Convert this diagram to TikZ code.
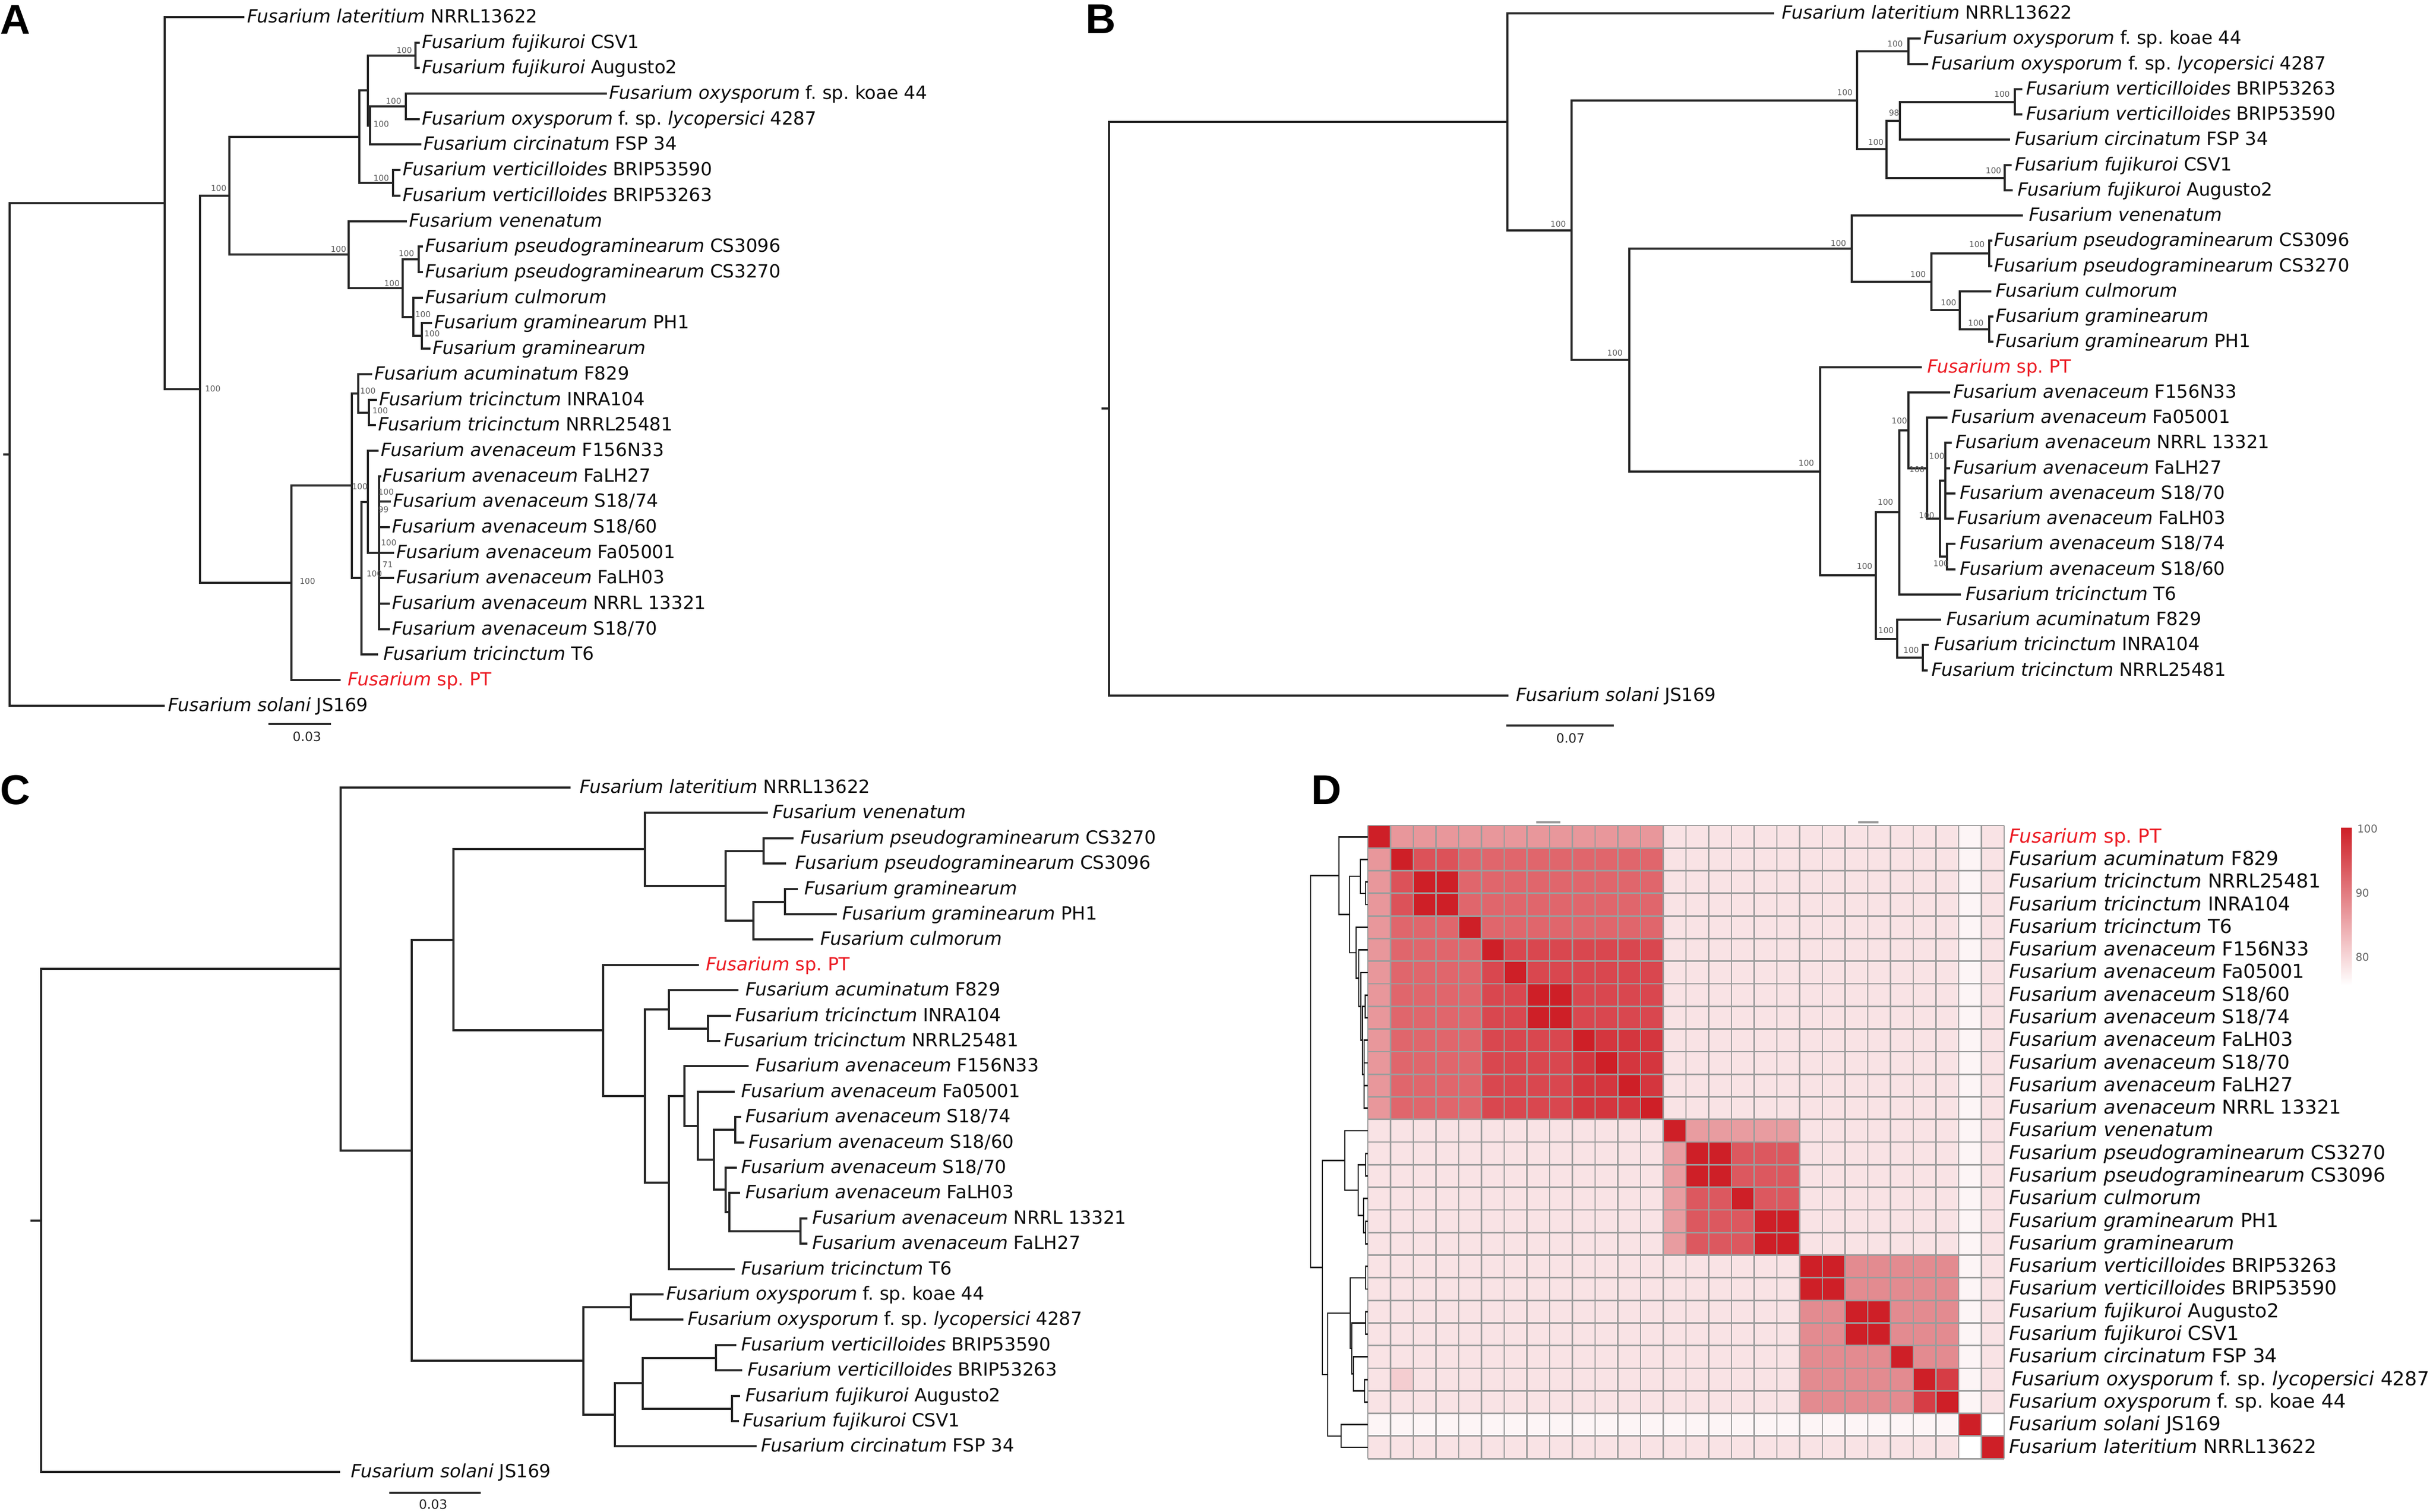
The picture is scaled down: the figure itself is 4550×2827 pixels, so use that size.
\documentclass[tikz,border=0pt]{standalone}
\usepackage{fontspec}
\setmainfont{DejaVu Sans}
\newfontfamily\plabfont{Liberation Sans}
\definecolor{hdk}{HTML}{CE1F27}
\definecolor{hP}{HTML}{E8979B}
\definecolor{hA}{HTML}{E0666C}
\definecolor{hAt}{HTML}{DC5259}
\definecolor{hAv}{HTML}{D9474F}
\definecolor{hAw}{HTML}{D4363E}
\definecolor{hB}{HTML}{DC585F}
\definecolor{hBv}{HTML}{E89CA0}
\definecolor{hC}{HTML}{E38B90}
\definecolor{hCo}{HTML}{D63D45}
\definecolor{hoff}{HTML}{F9E3E5}
\definecolor{hwt}{HTML}{FDF5F6}
\definecolor{hx}{HTML}{F4CDD0}
\definecolor{ptred}{HTML}{EC1C24}
\definecolor{gridgray}{HTML}{9C9C9C}
\newcommand\tfont{\fontsize{34}{40}\selectfont}
\newcommand\dfont{\fontsize{36}{42}\selectfont}
\newcommand\bsfont{\fontsize{15}{16}\selectfont}
\newcommand\Fu[2]{\textit{Fusarium #1} #2}
\newcommand\Fi[1]{\textit{Fusarium #1}}
\newcommand\Fox[1]{\textit{Fusarium oxysporum} f.\ sp.\ #1}
\newcommand\Fpt{\textcolor{ptred}{\textit{Fusarium} sp.\ PT}}
\newcommand\blk[1]{\ifnum#1<14 1\else\ifnum#1<20 2\else\ifnum#1<27 3\else\ifnum#1=27 4\else 5\fi\fi\fi\fi}
\newcommand\ispair[5]{\ifnum\numexpr(#1)*(#2)\relax=\numexpr(#3)*(#4)\relax\ifnum\numexpr(#1)+(#2)\relax=\numexpr(#3)+(#4)\relax\def\cc{#5}\fi\fi}
\newcommand\setccA[2]{%
  \def\cc{hA}%
  \ifnum#1>5 \ifnum#2>5 \def\cc{hAv}\ifnum#1>9 \ifnum#2>9 \def\cc{hAw}\fi\fi\fi\fi
  \ifnum#1<5 \ifnum#2<5 \def\cc{hAt}\fi\fi
  \ispair{#1}{#2}{3}{4}{hdk}%
  \ispair{#1}{#2}{8}{9}{hdk}%
  \ifnum#1=1 \def\cc{hP}\fi
  \ifnum#2=1 \def\cc{hP}\fi}
\newcommand\setccB[2]{%
  \def\cc{hB}%
  \ispair{#1}{#2}{15}{16}{hdk}%
  \ispair{#1}{#2}{18}{19}{hdk}%
  \ifnum#1=14 \def\cc{hBv}\fi
  \ifnum#2=14 \def\cc{hBv}\fi}
\newcommand\setccC[2]{%
  \def\cc{hC}%
  \ispair{#1}{#2}{20}{21}{hdk}%
  \ispair{#1}{#2}{22}{23}{hdk}%
  \ispair{#1}{#2}{25}{26}{hCo}}
\newcommand\setcc[2]{%
  \def\cc{hoff}%
  \ifnum#1=#2\relax\def\cc{hdk}\else
    \edef\bi{\blk{#1}}\edef\bj{\blk{#2}}%
    \ifnum\bi=\bj\relax
      \ifnum\bi=1 \setccA{#1}{#2}\fi
      \ifnum\bi=2 \setccB{#1}{#2}\fi
      \ifnum\bi=3 \setccC{#1}{#2}\fi
    \else
      \ifnum#1=27 \def\cc{hwt}\fi
      \ifnum#2=27 \def\cc{hwt}\fi
      \ifnum\numexpr#1+#2\relax=55 \def\cc{white}\fi
      \ifnum#1=25 \ifnum#2=2 \def\cc{hx}\fi\fi
    \fi
  \fi}
\newcommand\ch[2]{\foreach \kid in {#2}{\draw[br] (#1) |- (\kid);}}
\newcommand\dch[2]{\foreach \kid in {#2}{\draw[dbr] (#1) |- (\kid);}}
\begin{document}
\begin{tikzpicture}[x=1pt,y=-1pt,
  br/.style={draw=black!85, line width=4pt, line cap=rect},
  dbr/.style={draw=black!90, line width=2.8pt, line cap=rect},
  lf/.style={anchor=west, inner ysep=0pt, inner xsep=#1, text height=29pt, text depth=8pt, font=\tfont, text=black!95},
  lf/.default=6pt,
  dl/.style={anchor=west, inner sep=0pt, text height=31pt, text depth=9pt, font=\dfont, text=black!95},
  bs/.style={font=\bsfont, text=black!65, inner sep=0pt},
  sbl/.style={font=\fontsize{24}{26}\selectfont, text=black!85, inner sep=0pt},
  plab/.style={font=\plabfont\bfseries\fontsize{78}{80}\selectfont, anchor=base west, inner sep=0pt},
  gridln/.style={draw=gridgray, line width=2.8pt},
  cbl/.style={font=\fontsize{20}{22}\selectfont, text=black!60, anchor=west, inner sep=0pt}
]
\useasboundingbox (0,0) rectangle (4550,2827);

%================ Panel A ================
\node[plab] (labA) at (0,63) {A};
\coordinate (aS) at (8,850);
\coordinate (aR) at (18,850);
\coordinate (aNa) at (308,380);
\coordinate (aNb) at (374,728);
\coordinate (aNc) at (429,366);
\coordinate (aNe) at (672,255.5);
\coordinate (aNg) at (688,169);
\coordinate (aNfu) at (777,103.5);
\coordinate (aNh) at (692,234.5);
\coordinate (aNox) at (759,199);
\coordinate (aNv) at (735,342);
\coordinate (aNf) at (652,476.4);
\coordinate (aNi) at (753,538.75);
\coordinate (aNps) at (783,485);
\coordinate (aNj) at (773,592.5);
\coordinate (aNk) at (789,628);
\coordinate (aNd) at (545,1090);
\coordinate (aNm) at (658,908.4);
\coordinate (aNn) at (670,735.75);
\coordinate (aNtr) at (690,771.5);
\coordinate (aNo) at (676,1081);
\coordinate (aNav) at (688,938.5);
\coordinate (aNav2) at (709,1034);

\node[lf=7pt] (a0) at (455,32) {\Fu{lateritium}{NRRL13622}};
\node[lf] (a1) at (783,80) {\Fu{fujikuroi}{CSV1}};
\node[lf] (a2) at (783,127) {\Fu{fujikuroi}{Augusto2}};
\node[lf] (a3) at (1133,175) {\Fox{koae 44}};
\node[lf] (a4) at (783,223) {\Fox{\textit{lycopersici} 4287}};
\node[lf] (a5) at (786,270) {\Fu{circinatum}{FSP 34}};
\node[lf] (a6) at (747,318) {\Fu{verticilloides}{BRIP53590}};
\node[lf] (a7) at (747,366) {\Fu{verticilloides}{BRIP53263}};
\node[lf] (a8) at (759,414) {\Fi{venenatum}};
\node[lf] (a9) at (789,461) {\Fu{pseudograminearum}{CS3096}};
\node[lf] (a10) at (789,509) {\Fu{pseudograminearum}{CS3270}};
\node[lf] (a11) at (789,557) {\Fi{culmorum}};
\node[lf] (a12) at (806,604) {\Fu{graminearum}{PH1}};
\node[lf] (a13) at (803,652) {\Fi{graminearum}};
\node[lf] (a14) at (694,700) {\Fu{acuminatum}{F829}};
\node[lf] (a15) at (703,748) {\Fu{tricinctum}{INRA104}};
\node[lf] (a16) at (701,795) {\Fu{tricinctum}{NRRL25481}};
\node[lf] (a17) at (706,843) {\Fu{avenaceum}{F156N33}};
\node[lf=4pt] (a18) at (711,891) {\Fu{avenaceum}{FaLH27}};
\node[lf] (a19) at (729,938) {\Fu{avenaceum}{S18/74}};
\node[lf] (a20) at (727,986) {\Fu{avenaceum}{S18/60}};
\node[lf] (a21) at (735,1034) {\Fu{avenaceum}{Fa05001}};
\node[lf] (a22) at (735,1081) {\Fu{avenaceum}{FaLH03}};
\node[lf] (a23) at (727,1129) {\Fu{avenaceum}{NRRL 13321}};
\node[lf] (a24) at (727,1177) {\Fu{avenaceum}{S18/70}};
\node[lf=12pt] (a25) at (705,1224) {\Fu{tricinctum}{T6}};
\node[lf=15pt] (a26) at (635,1272) {\Fpt};
\node[lf=8pt] (a27) at (306,1320) {\Fu{solani}{JS169}};

\draw[br] (aS) -- (aR);
\ch{aR}{aNa,a27}
\ch{aNa}{a0,aNb}
\ch{aNb}{aNc,aNd}
\ch{aNc}{aNe,aNf}
\ch{aNe}{aNg,aNv}
\ch{aNg}{aNfu,aNh}
\ch{aNfu}{a1,a2}
\ch{aNh}{aNox,a5}
\ch{aNox}{a3,a4}
\ch{aNv}{a6,a7}
\ch{aNf}{a8,aNi}
\ch{aNi}{aNps,aNj}
\ch{aNps}{a9,a10}
\ch{aNj}{a11,aNk}
\ch{aNk}{a12,a13}
\ch{aNd}{aNm,a26}
\ch{aNm}{aNn,aNo}
\ch{aNn}{a14,aNtr}
\ch{aNtr}{a15,a16}
\ch{aNo}{aNav,a25}
\ch{aNav}{a17,aNav2}
\ch{aNav2}{a18,a19,a20,a21,a22,a23,a24}

\node[bs] (abs1) at (398,727) {100};
\node[bs] (abs2) at (409,352) {100};
\node[bs] (abs3) at (633,466) {100};
\node[bs] (abs4) at (756,94) {100};
\node[bs] (abs5) at (736,189) {100};
\node[bs] (abs6) at (713,232) {100};
\node[bs] (abs7) at (713,333) {100};
\node[bs] (abs8) at (760,474) {100};
\node[bs] (abs9) at (733,530) {100};
\node[bs] (abs10) at (791,588) {100};
\node[bs] (abs11) at (808,624) {100};
\node[bs] (abs12) at (575,1087) {100};
\node[bs] (abs13) at (673,910) {100};
\node[bs] (abs14) at (688,731) {100};
\node[bs] (abs15) at (711,768) {100};
\node[bs] (abs16) at (722,920) {100};
\node[bs] (abs17) at (717,953) {99};
\node[bs] (abs18) at (727,1015) {100};
\node[bs] (abs19) at (725,1056) {71};
\node[bs] (abs20) at (700,1073) {100};

\coordinate (asb1) at (504,1354);
\coordinate (asb2) at (617,1354);
\draw[br] (asb1) -- (asb2);
\node[sbl] (asbl) at (574,1378) {0.03};

%================ Panel B ================
\node[plab] (labB) at (2030,62) {B};
\coordinate (bS) at (2062,764.4);
\coordinate (bR) at (2074,764.4);
\coordinate (bN1) at (2819,227.75);
\coordinate (bN2) at (2939,430.5);
\coordinate (bN3) at (3473,187.6);
\coordinate (bNox) at (3569,96);
\coordinate (bN4) at (3528,279.1);
\coordinate (bN5) at (3553,225.75);
\coordinate (bNvt) at (3768,190.5);
\coordinate (bNfu) at (3749,332.5);
\coordinate (bN7) at (3047,673.4);
\coordinate (bN8) at (3463,465);
\coordinate (bN9) at (3612,527.1);
\coordinate (bNps) at (3720,474);
\coordinate (bN10) at (3665,580.25);
\coordinate (bNgr) at (3720,615.5);
\coordinate (bN11) at (3404,881.7);
\coordinate (bN12) at (3508,1076.4);
\coordinate (bN13) at (3552,958.4);
\coordinate (bN14) at (3569,804.75);
\coordinate (bN15) at (3604,875.5);
\coordinate (bN16) at (3628,970);
\coordinate (bG1) at (3638,899);
\coordinate (bG2) at (3641,1041);
\coordinate (bN17) at (3548,1194.5);
\coordinate (bNtr) at (3596,1230);

\node[lf=16pt] (b0) at (3316,25) {\Fu{lateritium}{NRRL13622}};
\node[lf=7pt] (b1) at (3590,72) {\Fox{koae 44}};
\node[lf=8pt] (b2) at (3604,120) {\Fox{\textit{lycopersici} 4287}};
\node[lf=9pt] (b3) at (3780,167) {\Fu{verticilloides}{BRIP53263}};
\node[lf=9pt] (b4) at (3780,214) {\Fu{verticilloides}{BRIP53590}};
\node[lf=11pt] (b5) at (3757,261) {\Fu{circinatum}{FSP 34}};
\node[lf=8pt] (b6) at (3760,309) {\Fu{fujikuroi}{CSV1}};
\node[lf=11pt] (b7) at (3762,356) {\Fu{fujikuroi}{Augusto2}};
\node[lf=13pt] (b8) at (3781,403) {\Fi{venenatum}};
\node[lf=5pt] (b9) at (3724,450) {\Fu{pseudograminearum}{CS3096}};
\node[lf=5pt] (b10) at (3724,498) {\Fu{pseudograminearum}{CS3270}};
\node[lf=10pt] (b11) at (3722,545) {\Fi{culmorum}};
\node[lf] (b12) at (3726,592) {\Fi{graminearum}};
\node[lf] (b13) at (3726,639) {\Fu{graminearum}{PH1}};
\node[lf=12pt] (b14) at (3592,687) {\Fpt};
\node[lf=8pt] (b15) at (3645,734) {\Fu{avenaceum}{F156N33}};
\node[lf=9pt] (b16) at (3640,781) {\Fu{avenaceum}{Fa05001}};
\node[lf=9pt] (b17) at (3648,828) {\Fu{avenaceum}{NRRL 13321}};
\node[lf=8pt] (b18) at (3645,876) {\Fu{avenaceum}{FaLH27}};
\node[lf=10pt] (b19) at (3655,923) {\Fu{avenaceum}{S18/70}};
\node[lf=8pt] (b20) at (3652,970) {\Fu{avenaceum}{FaLH03}};
\node[lf=10pt] (b21) at (3655,1017) {\Fu{avenaceum}{S18/74}};
\node[lf=10pt] (b22) at (3655,1065) {\Fu{avenaceum}{S18/60}};
\node[lf=11pt] (b23) at (3665,1112) {\Fu{tricinctum}{T6}};
\node[lf=12pt] (b24) at (3628,1159) {\Fu{acuminatum}{F829}};
\node[lf=12pt] (b25) at (3605,1206) {\Fu{tricinctum}{INRA104}};
\node[lf=9pt] (b26) at (3603,1254) {\Fu{tricinctum}{NRRL25481}};
\node[lf=16pt] (b27) at (2819,1301) {\Fu{solani}{JS169}};

\draw[br] (bS) -- (bR);
\ch{bR}{bN1,b27}
\ch{bN1}{b0,bN2}
\ch{bN2}{bN3,bN7}
\ch{bN3}{bNox,bN4}
\ch{bNox}{b1,b2}
\ch{bN4}{bN5,bNfu}
\ch{bN5}{bNvt,b5}
\ch{bNvt}{b3,b4}
\ch{bNfu}{b6,b7}
\ch{bN7}{bN8,bN11}
\ch{bN8}{b8,bN9}
\ch{bN9}{bNps,bN10}
\ch{bNps}{b9,b10}
\ch{bN10}{b11,bNgr}
\ch{bNgr}{b12,b13}
\ch{bN11}{b14,bN12}
\ch{bN12}{bN13,bN17}
\ch{bN13}{bN14,b23}
\ch{bN14}{b15,bN15}
\ch{bN15}{b16,bN16}
\ch{bN16}{bG1,bG2}
\ch{bG1}{b17,b18,b19,b20}
\ch{bG2}{b21,b22}
\ch{bN17}{b24,bNtr}
\ch{bNtr}{b25,b26}

\node[bs] (bbs1) at (2914,419) {100};
\node[bs] (bbs2) at (3020,660) {100};
\node[bs] (bbs3) at (3450,173) {100};
\node[bs] (bbs4) at (3544,82) {100};
\node[bs] (bbs5) at (3508,266) {100};
\node[bs] (bbs6) at (3542,211) {98};
\node[bs] (bbs7) at (3744,176) {100};
\node[bs] (bbs8) at (3728,319) {100};
\node[bs] (bbs9) at (3438,455) {100};
\node[bs] (bbs10) at (3587,513) {100};
\node[bs] (bbs11) at (3697,457) {100};
\node[bs] (bbs12) at (3644,566) {100};
\node[bs] (bbs13) at (3695,604) {100};
\node[bs] (bbs14) at (3378,866) {100};
\node[bs] (bbs15) at (3487,1059) {100};
\node[bs] (bbs16) at (3526,939) {100};
\node[bs] (bbs17) at (3552,787) {100};
\node[bs] (bbs18) at (3585,878) {100};
\node[bs] (bbs19) at (3622,853) {100};
\node[bs] (bbs20) at (3603,964) {100};
\node[bs] (bbs21) at (3630,1054) {100};
\node[bs] (bbs22) at (3527,1179) {100};
\node[bs] (bbs23) at (3574,1216) {100};

\coordinate (bsb1) at (2819,1357);
\coordinate (bsb2) at (3016,1357);
\draw[br] (bsb1) -- (bsb2);
\node[sbl] (bsbl) at (2937,1381) {0.07};

%================ Panel C ================
\node[plab] (labC) at (0,1504) {C};
\coordinate (cS) at (59,2282.7);
\coordinate (cR) at (77,2282.7);
\coordinate (cN1) at (637,1812.3);
\coordinate (cN2) at (770,2151.6);
\coordinate (cN3) at (848,1757.9);
\coordinate (cN4) at (1206,1588.3);
\coordinate (cN5) at (1357,1656.6);
\coordinate (cNps) at (1428,1591.5);
\coordinate (cN6) at (1409,1721.75);
\coordinate (cNgr) at (1468,1686.5);
\coordinate (cN7) at (1128,1927.4);
\coordinate (cN8) at (1206,2049.8);
\coordinate (cN9) at (1251,1887.75);
\coordinate (cNtr) at (1324,1923.5);
\coordinate (cN10) at (1251,2211.9);
\coordinate (cN11) at (1280,2049.8);
\coordinate (cN12) at (1305,2105.6);
\coordinate (cN13) at (1335,2169.2);
\coordinate (cNsp) at (1375,2113);
\coordinate (cN14) at (1357,2225.4);
\coordinate (cN15) at (1364,2266.75);
\coordinate (cN16) at (1497,2302.5);
\coordinate (cN17) at (1091,2545.25);
\coordinate (cNox) at (1180,2444.5);
\coordinate (cN18) at (1150,2646);
\coordinate (cN19) at (1202,2587);
\coordinate (cNvt) at (1339,2539.5);
\coordinate (cNfu) at (1369,2634.5);

\node[lf=19pt] (c0) at (1065,1473) {\Fu{lateritium}{NRRL13622}};
\node[lf=11pt] (c1) at (1434,1520) {\Fi{venenatum}};
\node[lf=15pt] (c2) at (1482,1568) {\Fu{pseudograminearum}{CS3270}};
\node[lf=19pt] (c3) at (1468,1615) {\Fu{pseudograminearum}{CS3096}};
\node[lf=14pt] (c4) at (1490,1663) {\Fi{graminearum}};
\node[lf=12pt] (c5) at (1563,1710) {\Fu{graminearum}{PH1}};
\node[lf=15pt] (c6) at (1519,1757) {\Fi{culmorum}};
\node[lf=15pt] (c7) at (1305,1805) {\Fpt};
\node[lf=15pt] (c8) at (1379,1852) {\Fu{acuminatum}{F829}};
\node[lf=10pt] (c9) at (1365,1900) {\Fu{tricinctum}{INRA104}};
\node[lf=9pt] (c10) at (1345,1947) {\Fu{tricinctum}{NRRL25481}};
\node[lf=15pt] (c11) at (1398,1994) {\Fu{avenaceum}{F156N33}};
\node[lf=14pt] (c12) at (1372,2042) {\Fu{avenaceum}{Fa05001}};
\node[lf=10pt] (c13) at (1384,2089) {\Fu{avenaceum}{S18/74}};
\node[lf=10pt] (c14) at (1390,2137) {\Fu{avenaceum}{S18/60}};
\node[lf=10pt] (c15) at (1376,2184) {\Fu{avenaceum}{S18/70}};
\node[lf=12pt] (c16) at (1382,2231) {\Fu{avenaceum}{FaLH03}};
\node[lf=11pt] (c17) at (1508,2279) {\Fu{avenaceum}{NRRL 13321}};
\node[lf=11pt] (c18) at (1508,2326) {\Fu{avenaceum}{FaLH27}};
\node[lf=14pt] (c19) at (1372,2374) {\Fu{tricinctum}{T6}};
\node[lf=7pt] (c20) at (1239,2421) {\Fox{koae 44}};
\node[lf=10pt] (c21) at (1276,2468) {\Fox{\textit{lycopersici} 4287}};
\node[lf=11pt] (c22) at (1375,2516) {\Fu{verticilloides}{BRIP53590}};
\node[lf=12pt] (c23) at (1386,2563) {\Fu{verticilloides}{BRIP53263}};
\node[lf=12pt] (c24) at (1382,2611) {\Fu{fujikuroi}{Augusto2}};
\node[lf=9pt] (c25) at (1380,2658) {\Fu{fujikuroi}{CSV1}};
\node[lf=10pt] (c26) at (1413,2705) {\Fu{circinatum}{FSP 34}};
\node[lf=22pt] (c27) at (634,2753) {\Fu{solani}{JS169}};

\draw[br] (cS) -- (cR);
\ch{cR}{cN1,c27}
\ch{cN1}{c0,cN2}
\ch{cN2}{cN3,cN17}
\ch{cN3}{cN4,cN7}
\ch{cN4}{c1,cN5}
\ch{cN5}{cNps,cN6}
\ch{cNps}{c2,c3}
\ch{cN6}{cNgr,c6}
\ch{cNgr}{c4,c5}
\ch{cN7}{c7,cN8}
\ch{cN8}{cN9,cN10}
\ch{cN9}{c8,cNtr}
\ch{cNtr}{c9,c10}
\ch{cN10}{cN11,c19}
\ch{cN11}{c11,cN12}
\ch{cN12}{c12,cN13}
\ch{cN13}{cNsp,cN14}
\ch{cNsp}{c13,c14}
\ch{cN14}{c15,cN15}
\ch{cN15}{c16,cN16}
\ch{cN16}{c17,c18}
\ch{cN17}{cNox,cN18}
\ch{cNox}{c20,c21}
\ch{cN18}{cN19,c26}
\ch{cN19}{cNvt,cNfu}
\ch{cNvt}{c22,c23}
\ch{cNfu}{c24,c25}

\coordinate (csb1) at (730,2792);
\coordinate (csb2) at (897,2792);
\draw[br] (csb1) -- (csb2);
\node[sbl] (csbl) at (810,2814) {0.03};

%================ Panel D ================
\node[plab] (labD) at (2452,1504) {D};
\foreach \i in {1,...,28}{
  \foreach \j in {1,...,28}{
    \setcc{\i}{\j}
    \fill[\cc] ({2558+(\j-1)*42.5},{1544+(\i-1)*42.29}) rectangle ++(42.5,42.29);
  }
}
\foreach \k in {0,...,28}{
  \draw[gridln] ({2558+\k*42.5},1544) -- ({2558+\k*42.5},2728.1);
  \draw[gridln] (2558,{1544+\k*42.29}) -- (3748,{1544+\k*42.29});
}
\coordinate (dc1a) at (2873,1538);
\coordinate (dc1b) at (2918,1538);
\coordinate (dc2a) at (3475,1538);
\coordinate (dc2b) at (3513,1538);
\draw[gridgray, line width=4pt] (dc1a) -- (dc1b);
\draw[gridgray, line width=4pt] (dc2a) -- (dc2b);

\foreach \k in {1,...,28}{\coordinate (dl\k) at (2557,{1544+42.29*(\k-0.5)});}
\coordinate (dR) at (2451,2004);
\coordinate (dT) at (2504,1637.7);
\coordinate (dT1) at (2524,1710.5);
\coordinate (dA1) at (2544,1639);
\coordinate (dAtr) at (2554,1671);
\coordinate (dA2) at (2536,1781.9);
\coordinate (dAav) at (2541,1829.5);
\coordinate (dAav2) at (2545,1882.4);
\coordinate (dAav3) at (2548,1945.8);
\coordinate (dAsp) at (2553,1882.4);
\coordinate (dAav4) at (2551,2009.3);
\coordinate (dU) at (2473,2370.8);
\coordinate (dG) at (2515,2170.5);
\coordinate (dG2) at (2540,2226);
\coordinate (dGps) at (2554,2178.5);
\coordinate (dGg) at (2550,2273.6);
\coordinate (dGgr) at (2554,2305.4);
\coordinate (dF) at (2483,2571);
\coordinate (dFj) at (2525,2456);
\coordinate (dFv) at (2554,2390);
\coordinate (dFk) at (2528,2522);
\coordinate (dFfu) at (2554,2474.5);
\coordinate (dFm) at (2531,2569.7);
\coordinate (dFo) at (2552,2601.5);
\coordinate (dFs) at (2508,2686);
\dch{dR}{dT,dU}
\dch{dT}{dl1,dT1}
\dch{dT1}{dA1,dA2}
\dch{dA1}{dl2,dAtr}
\dch{dAtr}{dl3,dl4}
\dch{dA2}{dl5,dAav}
\dch{dAav}{dl6,dAav2}
\dch{dAav2}{dl7,dAav3}
\dch{dAav3}{dAsp,dAav4}
\dch{dAsp}{dl8,dl9}
\dch{dAav4}{dl10,dl11,dl12,dl13}
\dch{dU}{dG,dF}
\dch{dG}{dl14,dG2}
\dch{dG2}{dGps,dGg}
\dch{dGps}{dl15,dl16}
\dch{dGg}{dl17,dGgr}
\dch{dGgr}{dl18,dl19}
\dch{dF}{dFj,dFs}
\dch{dFj}{dFv,dFk}
\dch{dFv}{dl20,dl21}
\dch{dFk}{dFfu,dFm}
\dch{dFfu}{dl22,dl23}
\dch{dFm}{dl24,dFo}
\dch{dFo}{dl25,dl26}
\dch{dFs}{dl27,dl28}

\foreach \k/\xx/\t in {
  1/3757/{\Fpt},
  2/3757/{\Fu{acuminatum}{F829}},
  3/3757/{\Fu{tricinctum}{NRRL25481}},
  4/3757/{\Fu{tricinctum}{INRA104}},
  5/3757/{\Fu{tricinctum}{T6}},
  6/3757/{\Fu{avenaceum}{F156N33}},
  7/3757/{\Fu{avenaceum}{Fa05001}},
  8/3757/{\Fu{avenaceum}{S18/60}},
  9/3757/{\Fu{avenaceum}{S18/74}},
  10/3757/{\Fu{avenaceum}{FaLH03}},
  11/3757/{\Fu{avenaceum}{S18/70}},
  12/3757/{\Fu{avenaceum}{FaLH27}},
  13/3757/{\Fu{avenaceum}{NRRL 13321}},
  14/3757/{\Fi{venenatum}},
  15/3757/{\Fu{pseudograminearum}{CS3270}},
  16/3757/{\Fu{pseudograminearum}{CS3096}},
  17/3757/{\Fi{culmorum}},
  18/3757/{\Fu{graminearum}{PH1}},
  19/3757/{\Fi{graminearum}},
  20/3757/{\Fu{verticilloides}{BRIP53263}},
  21/3757/{\Fu{verticilloides}{BRIP53590}},
  22/3757/{\Fu{fujikuroi}{Augusto2}},
  23/3757/{\Fu{fujikuroi}{CSV1}},
  24/3757/{\Fu{circinatum}{FSP 34}},
  25/3762/{\Fox{\textit{lycopersici} 4287}},
  26/3757/{\Fox{koae 44}},
  27/3757/{\Fu{solani}{JS169}},
  28/3757/{\Fu{lateritium}{NRRL13622}}}{
  \node[dl] (dt\k) at (\xx,{1544+42.29*(\k-0.5)}) {\t};
}

\shade[top color=hdk, bottom color=white] (4378,1548) rectangle (4398,1843);
\node[cbl] (cb100) at (4408,1550) {100};
\node[cbl] (cb90) at (4405,1670) {90};
\node[cbl] (cb80) at (4405,1790) {80};
\end{tikzpicture}
\end{document}
